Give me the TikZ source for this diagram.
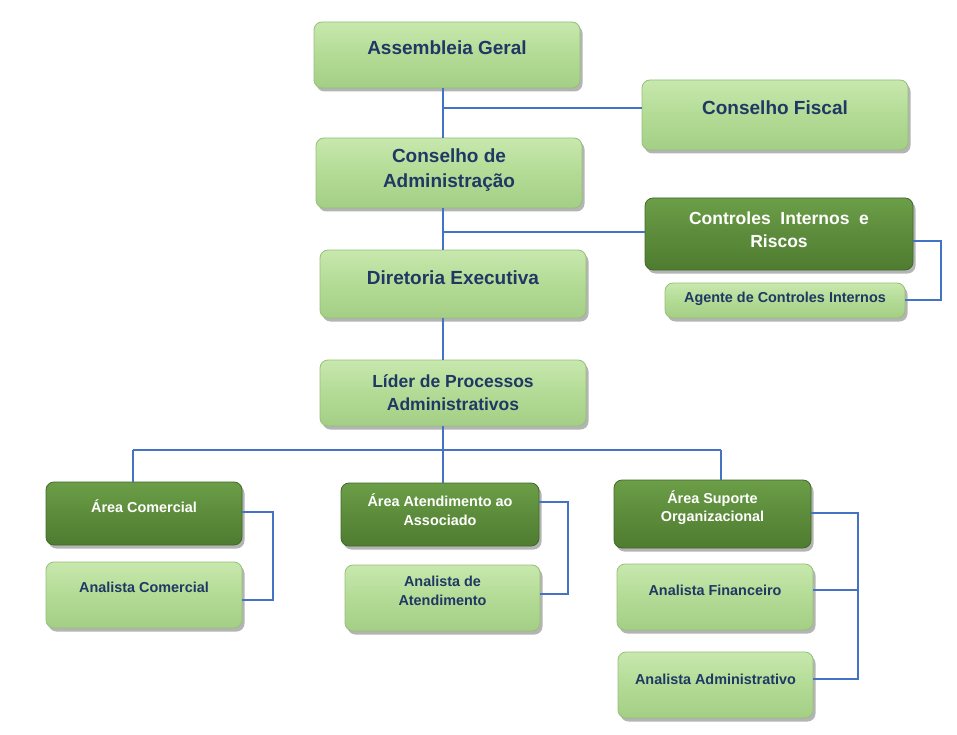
\documentclass[tikz,border=0pt]{standalone}
\usepackage{fontspec}
\setmainfont{Liberation Sans}
\usetikzlibrary{shadows}
\definecolor{lgTop}{HTML}{C8E8AE}
\definecolor{lgMid}{HTML}{B3DB95}
\definecolor{lgBot}{HTML}{A4CE86}
\definecolor{lgEdge}{HTML}{94C078}
\definecolor{dgTop}{HTML}{6C9E48}
\definecolor{dgMid}{HTML}{5C8C3B}
\definecolor{dgBot}{HTML}{4F7C30}
\definecolor{dgEdge}{HTML}{41692A}
\definecolor{navy}{HTML}{1F3864}
\definecolor{conncol}{HTML}{4472C4}
\begin{document}
\begin{tikzpicture}[x=1pt,y=-1pt,
  boxbase/.style={rounded corners=8pt, line width=0.8pt, inner sep=0pt,
    drop shadow={shadow xshift=2.5pt, shadow yshift=-3.5pt, opacity=0.45, fill=black!65}},
  lbox/.style={boxbase, draw=lgEdge, top color=lgTop, bottom color=lgBot, middle color=lgMid},
  dbox/.style={boxbase, draw=dgEdge, top color=dgTop, bottom color=dgBot, middle color=dgMid},
  bigtxt/.style={font=\fontsize{19}{25}\selectfont\bfseries, text=navy, align=center, inner sep=0pt},
  midtxt/.style={font=\fontsize{17.5}{23}\selectfont\bfseries, align=center, inner sep=0pt},
  smalltxt/.style={font=\fontsize{14.4}{18.5}\selectfont\bfseries, align=center, inner sep=0pt},
  conn/.style={draw=conncol, line width=1.8pt}
]
\useasboundingbox[fill=white] (0,0) rectangle (957,735);

% boxes
\node[lbox, minimum width=266pt, minimum height=66pt] (ag) at (447,55) {};
\node[lbox, minimum width=266pt, minimum height=70pt] (cf) at (775,115) {};
\node[lbox, minimum width=266pt, minimum height=70pt] (ca) at (449,173) {};
\node[dbox, minimum width=268pt, minimum height=72pt] (cir) at (779,234) {};
\node[lbox, minimum width=240pt, minimum height=35pt] (aci) at (785,300.5) {};
\node[lbox, minimum width=266pt, minimum height=68pt] (de) at (453,284) {};
\node[lbox, minimum width=266pt, minimum height=66pt] (lp) at (453,393) {};
\node[dbox, minimum width=196pt, minimum height=63pt] (ac) at (144,513.5) {};
\node[lbox, minimum width=196pt, minimum height=66pt] (anc) at (144,595) {};
\node[dbox, minimum width=198pt, minimum height=63pt] (aa) at (440,514.5) {};
\node[lbox, minimum width=195pt, minimum height=66pt] (ana) at (442.5,598) {};
\node[dbox, minimum width=197pt, minimum height=68pt] (aso) at (712.5,514) {};
\node[lbox, minimum width=196pt, minimum height=66pt] (anf) at (715,597) {};
\node[lbox, minimum width=195pt, minimum height=66pt] (anad) at (715.5,685) {};

% texts
\node[bigtxt] (agt) at (447,48) {Assembleia Geral};
\node[bigtxt] (cft) at (775,108) {Conselho Fiscal};
\node[bigtxt] (cat) at (449,170.5) {Conselho de\\Administração};
\node[midtxt, text=white] (cirt) at (779,229.5) {Controles\ \ Internos\ \ e\\Riscos};
\node[smalltxt, text=navy] (acit) at (785,299) {Agente de Controles Internos};
\node[bigtxt] (det) at (453,278) {Diretoria Executiva};
\node[midtxt, text=navy] (lpt) at (453,392.5) {Líder de Processos\\Administrativos};
\node[smalltxt, text=white] (act) at (144,506) {Área Comercial};
\node[smalltxt, text=navy] (anct) at (144,587) {Analista Comercial};
\node[smalltxt, text=white] (aat) at (440,509.5) {Área Atendimento ao\\Associado};
\node[smalltxt, text=navy] (anat) at (442.5,591) {Analista de\\Atendimento};
\node[smalltxt, text=white] (asot) at (712.5,507.5) {Área Suporte\\Organizacional};
\node[smalltxt, text=navy] (anft) at (715,590) {Analista Financeiro};
\node[smalltxt, text=navy] (anadt) at (715.5,679) {Analista Administrativo};

% connectors
\coordinate (tr) at (443,0);
\coordinate (j1) at (443,108);
\coordinate (j2) at (443,232);
\coordinate (bus) at (443,450);
\coordinate (bl) at (133,450);
\coordinate (br) at (721,450);
\coordinate (rc) at (941,0);
\coordinate (ra) at (273,0);
\coordinate (rb) at (568,0);
\coordinate (rs) at (858,0);

\draw[conn] (ag.south -| tr) -- (ca.north -| tr);
\draw[conn] (j1) -- (j1 -| cf.west);
\draw[conn] (ca.south -| tr) -- (de.north -| tr);
\draw[conn] (j2) -- (j2 -| cir.west);
\draw[conn] (de.south -| tr) -- (lp.north -| tr);
\draw[conn] (cir.east |- 0,241) -- (rc |- 0,241) -- (rc |- 0,300) -- (aci.east |- 0,300);

\draw[conn] (lp.south -| tr) -- (bus);
\draw[conn] (bl) -- (br);
\draw[conn] (bl) -- (bl |- ac.north);
\draw[conn] (bus) -- (bus |- aa.north);
\draw[conn] (br) -- (br |- aso.north);

\draw[conn] (ac.east |- 0,512) -- (ra |- 0,512) -- (ra |- 0,600) -- (anc.east |- 0,600);
\draw[conn] (aa.east |- 0,502) -- (rb |- 0,502) -- (rb |- 0,594) -- (ana.east |- 0,594);
\draw[conn] (aso.east |- 0,513) -- (rs |- 0,513) -- (rs |- 0,679) -- (anad.east |- 0,679);
\draw[conn] (anf.east |- 0,590) -- (rs |- 0,590);
\end{tikzpicture}
\end{document}
